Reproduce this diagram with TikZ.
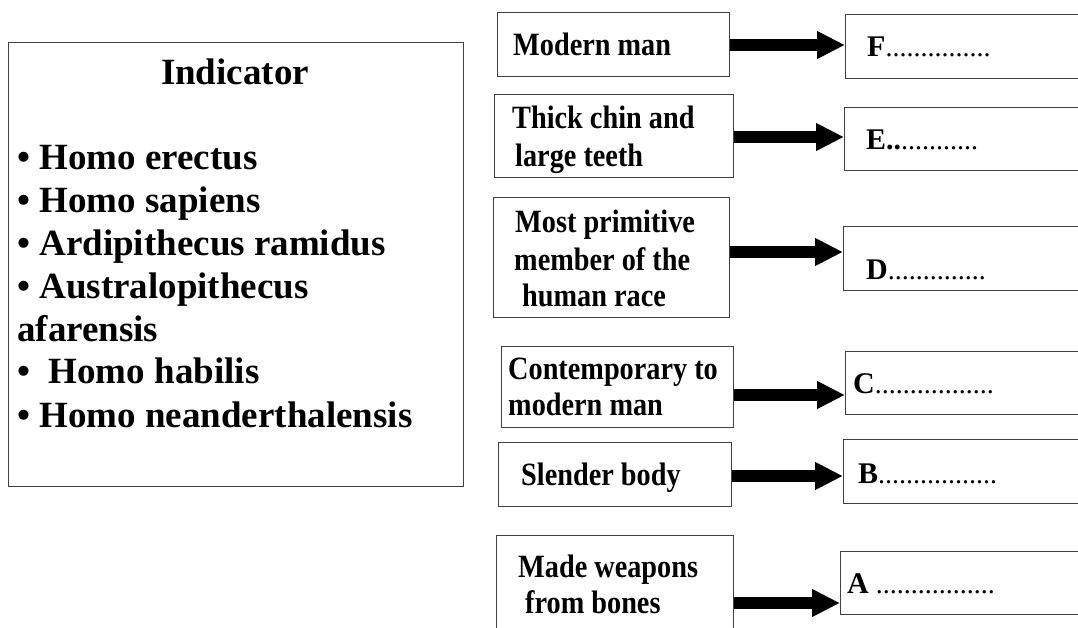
\documentclass[tikz,border=0pt]{standalone}
\usepackage{fontspec}
\setmainfont{Liberation Serif}
\newfontfamily\condfont[FakeStretch=0.87]{Liberation Serif}
\usetikzlibrary{arrows.meta}
\begin{document}
\begin{tikzpicture}[x=1pt,y=-1pt,
  box/.style={draw=black!75,line width=0.9pt,inner sep=0pt,anchor=north west},
  txt/.style={inner sep=0pt,anchor=base west},
  listtxt/.style={txt,font=\fontsize{37}{42}\selectfont\bfseries},
  boxtxt/.style={txt,font=\condfont\fontsize{32.5}{37}\selectfont\bfseries},
  labtxt/.style={txt,font=\fontsize{28}{32}\selectfont},
  bigarrow/.style={line width=12.5pt,-{Triangle[length=28pt,width=26pt]}}]
\useasboundingbox (0,0) rectangle (1078,628);
\clip (0,0) rectangle (1078,628);
% left box
\node[box,minimum width=455pt,minimum height=444pt] (L) at (8,42) {};
\node[inner sep=0pt,anchor=base,font=\fontsize{37}{42}\selectfont\bfseries] (Lt) at (235,85) {Indicator};
\node[listtxt] (l1) at (17,170) {• Homo erectus};
\node[listtxt] (l2) at (17,213) {• Homo sapiens};
\node[listtxt] (l3) at (17,255) {• Ardipithecus ramidus};
\node[listtxt] (l4) at (17,298) {• Australopithecus};
\node[listtxt] (l5) at (17,341) {afarensis};
\node[listtxt] (l6) at (17,383) {•\ \ Homo habilis};
\node[listtxt] (l7) at (17,427) {• Homo neanderthalensis};
% middle boxes
\node[box,minimum width=232pt,minimum height=64pt] (m1) at (497,12) {};
\node[box,minimum width=239pt,minimum height=83pt] (m2) at (494,94) {};
\node[box,minimum width=236pt,minimum height=120pt] (m3) at (493,197) {};
\node[box,minimum width=232pt,minimum height=81pt] (m4) at (501,346) {};
\node[box,minimum width=233pt,minimum height=64pt] (m5) at (498,442) {};
\node[box,minimum width=237pt,minimum height=110pt] (m6) at (496,535) {};
\node[boxtxt] (t1) at (513,56) {Modern man};
\node[boxtxt] (t2a) at (512,129) {Thick chin and};
\node[boxtxt] (t2b) at (515,167) {large teeth};
\node[boxtxt] (t3a) at (515,233) {Most primitive};
\node[boxtxt] (t3b) at (514,270) {member of the};
\node[boxtxt] (t3c) at (522,306) {human race};
\node[boxtxt] (t4a) at (508,379) {Contemporary to};
\node[boxtxt] (t4b) at (508,415) {modern man};
\node[boxtxt] (t5) at (521,485) {Slender body};
\node[boxtxt] (t6a) at (518,577) {Made weapons};
\node[boxtxt] (t6b) at (525,613) {from bones};
% right boxes
\node[box,minimum width=260pt,minimum height=64pt] (r1) at (845,14) {};
\node[box,minimum width=260pt,minimum height=63pt] (r2) at (844,107) {};
\node[box,minimum width=260pt,minimum height=64pt] (r3) at (843,226) {};
\node[box,minimum width=260pt,minimum height=63pt] (r4) at (845,351) {};
\node[box,minimum width=260pt,minimum height=64pt] (r5) at (843,439) {};
\node[box,minimum width=260pt,minimum height=63pt] (r6) at (840,551) {};
\node[labtxt] (f) at (867,57) {\textbf{\fontsize{30}{32}\selectfont F}...............};
\node[labtxt] (e) at (866,150) {\textbf{\fontsize{30}{32}\selectfont E..}...........};
\node[labtxt] (d) at (866,279) {\textbf{\fontsize{30}{32}\selectfont D}..............};
\node[labtxt] (c) at (853,393) {\textbf{\fontsize{30}{32}\selectfont C}.................};
\node[labtxt] (b) at (858,483) {\textbf{\fontsize{30}{32}\selectfont B}.................};
\node[labtxt] (a) at (847,593) {\textbf{\fontsize{30}{32}\selectfont A} .................};
% arrows
\draw[bigarrow] (m1.east |- 0,45) -- (r1.west |- 0,45);
\draw[bigarrow] (m2.east |- 0,137) -- (r2.west |- 0,137);
\draw[bigarrow] (m3.east |- 0,252) -- (r3.west |- 0,252);
\draw[bigarrow] (m4.east |- 0,395) -- (r4.west |- 0,395);
\draw[bigarrow] (m5.east |- 0,476) -- (r5.west |- 0,476);
\draw[bigarrow] (m6.east |- 0,603) -- (r6.west |- 0,603);
\end{tikzpicture}
\end{document}
